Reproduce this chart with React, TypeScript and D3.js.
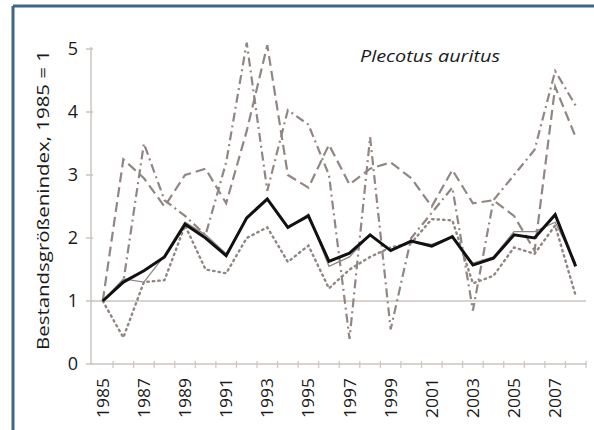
import React from "react";
import * as d3 from "d3";

const years = d3.range(1985, 2009);
const yTicks = [0, 1, 2, 3, 4, 5];
const xLabelYears = [1985, 1987, 1989, 1991, 1993, 1995, 1997, 1999, 2001, 2003, 2005, 2007];

const meanIndex = [1.0, 1.3, 1.48, 1.7, 2.22, 2.0, 1.72, 2.32, 2.62, 2.17, 2.35, 1.63, 1.76, 2.05, 1.8, 1.95, 1.87, 2.02, 1.57, 1.68, 2.05, 2.0, 2.37, 1.55];
const dashedSeries = [1.0, 3.25, 2.95, 2.5, 3.0, 3.1, 2.55, 3.7, 5.06, 3.0, 2.8, 3.48, 2.85, 3.1, 3.2, 2.95, 2.5, 3.08, 2.55, 2.6, 2.35, 1.8, 4.4, 3.6];
const dashDotSeries = [1.0, 1.3, 3.5, 2.6, 2.35, 2.05, 3.2, 5.1, 2.75, 4.03, 3.8, 3.0, 0.4, 3.6, 0.55, 2.0, 2.4, 2.8, 0.85, 2.6, 3.0, 3.4, 4.65, 4.1];
const dottedSeries = [1.0, 0.42, 1.3, 1.33, 2.2, 1.5, 1.44, 2.0, 2.17, 1.62, 1.88, 1.2, 1.5, 1.7, 1.85, 1.92, 2.3, 2.28, 1.28, 1.4, 1.85, 1.75, 2.2, 1.08];
const thinSeries = [1.0, 1.35, 1.3, 1.72, 2.25, 2.05, 1.75, 2.3, 2.6, 2.15, 2.38, 1.55, 1.7, 2.05, 1.82, 1.95, 1.9, 2.02, 1.6, 1.7, 2.1, 2.1, 2.25, 1.6];

const W = 594;
const H = 430;

export default function App() {
  const x = d3.scaleBand<number>().domain(years).range([92.5, 586]);
  const cx = (yr: number) => (x(yr) as number) + x.bandwidth() / 2;
  const y = d3.scaleLinear().domain([0, 5]).range([364, 49]);
  const line = (vals: number[]) =>
    d3.line<number>().x((_, i) => cx(years[i])).y((v) => y(v))(vals) as string;

  const gray = "#918682";
  const axisCol = "#cdc5c0";
  const font = "'Open Sans', 'Noto Sans', sans-serif";
  const textCol = "#1a1a1a";

  return (
    <svg width={W} height={H} style={{ position: "absolute", left: 0, top: 0, background: "#fff" }}>
      <rect x={0} y={0} width={W} height={H} fill="#fff" />
      {/* frame */}
      <line x1={13} y1={6} x2={W} y2={6} stroke="#3d6782" strokeWidth={3} />
      <line x1={13} y1={6} x2={13} y2={H} stroke="#3d6782" strokeWidth={3} />

      {/* y axis */}
      <line x1={91} y1={y(5) - 2} x2={91} y2={y(0)} stroke={axisCol} strokeWidth={1.5} />
      {yTicks.map((t) => (
        <g key={t}>
          <line x1={86} x2={93} y1={y(t)} y2={y(t)} stroke={axisCol} strokeWidth={1.5} />
          <text x={73} y={y(t)} dy="0.36em" textAnchor="middle" fontFamily={font} fontSize={18} fill={textCol}>
            {t}
          </text>
        </g>
      ))}
      {/* x axis */}
      <line x1={91} x2={587} y1={y(0)} y2={y(0)} stroke={axisCol} strokeWidth={1.5} />
      {years.map((yr) => (
        <line key={yr} x1={(x(yr) as number) + x.bandwidth()} x2={(x(yr) as number) + x.bandwidth()} y1={y(0) - 3} y2={y(0) + 4} stroke={axisCol} strokeWidth={1.2} />
      ))}
      {xLabelYears.map((yr) => (
        <text
          key={yr}
          transform={`translate(${cx(yr) + 6},378) rotate(-90)`}
          textAnchor="end"
          fontFamily={font}
          fontSize={17}
          fill={textCol}
          textLength={40}
          lengthAdjust="spacingAndGlyphs"
        >
          {yr}
        </text>
      ))}

      {/* reference line at 1 */}
      <line x1={91} x2={586} y1={y(1)} y2={y(1)} stroke={axisCol} strokeWidth={1.5} />

      {/* y title */}
      <text
        transform={`translate(49,${(50 + 350) / 2}) rotate(-90)`}
        textAnchor="middle"
        fontFamily={font}
        fontSize={17}
        fill={textCol}
        textLength={300}
        lengthAdjust="spacingAndGlyphs"
      >
        Bestandsgrößenindex, 1985 = 1
      </text>

      {/* species title */}
      <text x={360} y={62} fontFamily={font} fontStyle="italic" fontSize={17} fill={textCol} textLength={140} lengthAdjust="spacingAndGlyphs">
        Plecotus auritus
      </text>

      {/* series */}
      <path d={line(thinSeries)} fill="none" stroke={gray} strokeWidth={1.3} />
      <path d={line(dottedSeries)} fill="none" stroke={gray} strokeWidth={2.4} strokeDasharray="1.5,4" strokeLinecap="round" />
      <path d={line(dashDotSeries)} fill="none" stroke={gray} strokeWidth={2.2} strokeDasharray="9,4,2,4" />
      <path d={line(dashedSeries)} fill="none" stroke={gray} strokeWidth={2.2} strokeDasharray="10,5" />
      <path d={line(meanIndex)} fill="none" stroke="#111" strokeWidth={3} strokeLinejoin="miter" />
    </svg>
  );
}
